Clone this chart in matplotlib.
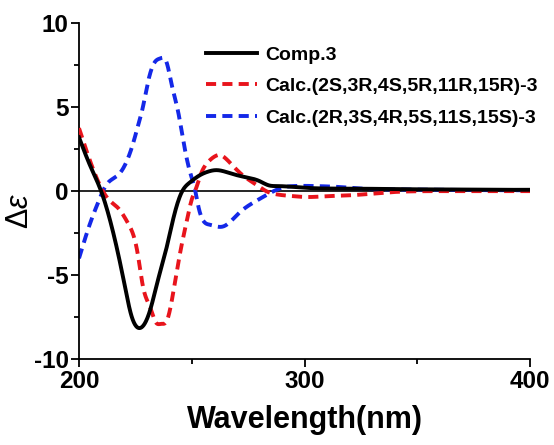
import numpy as np
import matplotlib
matplotlib.use("Agg")
import matplotlib.pyplot as plt
from matplotlib.ticker import MultipleLocator

# Experimental CD (Comp.3)
exp_wl = [200, 205, 209.8, 213.7, 217.3, 220.4, 223, 227, 231.5, 235, 238.6, 241.7, 245.6, 249, 253, 257, 261, 265, 270, 275, 280, 284, 288, 295, 300, 320, 340, 360, 380, 400]
exp_de = [3.2, 1.5, 0.0, -1.7, -3.7, -5.7, -7.3, -8.15, -7.1, -5.3, -3.5, -1.7, -0.05, 0.5, 0.9, 1.15, 1.25, 1.15, 0.95, 0.8, 0.6, 0.35, 0.3, 0.25, 0.2, 0.15, 0.12, 0.1, 0.08, 0.08]

# Calc.(2S,3R,4S,5R,11R,15R)-3
r_wl = [200, 205.3, 210.6, 213.5, 217.3, 221.7, 226, 228.4, 231.5, 234, 236.5, 239, 241.7, 244.8, 247.9, 250, 252, 254, 257, 260, 262.5, 265, 269, 273, 279, 283, 288, 295, 301, 310, 320, 330, 340, 360, 380, 400]
r_de = [3.75, 1.65, 0.0, -0.55, -1.0, -1.9, -3.7, -5.7, -6.9, -7.8, -7.9, -7.7, -6.1, -3.7, -1.7, -0.5, 0.2, 1.0, 1.7, 2.05, 2.15, 1.95, 1.4, 0.9, 0.35, 0.0, -0.2, -0.3, -0.35, -0.3, -0.25, -0.15, -0.05, 0.0, 0.0, 0.0]

# Calc.(2R,3S,4R,5S,11S,15S)-3
b_wl = [200, 205.5, 208.4, 210.6, 212, 217.3, 221.7, 224, 226, 228, 230.6, 233.7, 236, 239, 241, 244, 246, 249, 251.5, 253, 258, 264, 271, 279, 285.6, 290, 295, 305, 315, 325, 340, 360, 380, 400]
b_de = [-4.0, -1.7, -0.7, 0.0, 0.35, 0.95, 1.95, 2.85, 3.8, 4.8, 6.5, 7.7, 7.9, 7.6, 6.4, 4.7, 3.2, 1.25, 0.05, -0.95, -2.0, -2.1, -1.3, -0.55, -0.05, 0.2, 0.3, 0.3, 0.25, 0.15, 0.1, 0.08, 0.06, 0.05]

labels = ["Comp.3", "Calc.(2S,3R,4S,5R,11R,15R)-3", "Calc.(2R,3S,4R,5S,11S,15S)-3"]

plt.rcParams['font.family'] = ['Liberation Sans', 'DejaVu Sans']
plt.rcParams['font.weight'] = 'bold'
plt.rcParams['axes.unicode_minus'] = False
plt.rcParams['mathtext.fontset'] = 'custom'
plt.rcParams['mathtext.rm'] = 'Liberation Sans:weight=normal'
plt.rcParams['mathtext.it'] = 'Liberation Sans:slant=italic:weight=normal'

fig = plt.figure(figsize=(5.54, 4.45), dpi=100)
ax = fig.add_axes([0.1426, 0.193, 0.8141, 0.755])

def smooth(x, y):
    """Natural cubic spline through the read points."""
    x = np.asarray(x, float); y = np.asarray(y, float)
    n = len(x)
    h = np.diff(x)
    A = np.zeros((n, n)); b = np.zeros(n)
    A[0, 0] = 1; A[-1, -1] = 1
    for i in range(1, n - 1):
        A[i, i-1] = h[i-1]; A[i, i] = 2*(h[i-1] + h[i]); A[i, i+1] = h[i]
        b[i] = 6*((y[i+1]-y[i])/h[i] - (y[i]-y[i-1])/h[i-1])
    M = np.linalg.solve(A, b)
    xs = np.linspace(x[0], x[-1], 1200)
    idx = np.clip(np.searchsorted(x, xs) - 1, 0, n - 2)
    hi = h[idx]; a = x[idx+1] - xs; c = xs - x[idx]
    ys = (M[idx]*a**3 + M[idx+1]*c**3)/(6*hi) + (y[idx]/hi - M[idx]*hi/6)*a + (y[idx+1]/hi - M[idx+1]*hi/6)*c
    return xs, ys

ax.axhline(0, color='black', lw=1.2, zorder=1)
x, y = smooth(exp_wl, exp_de)
ax.plot(x, y, color='black', lw=2.8, label=labels[0], zorder=4)
x, y = smooth(r_wl, r_de)
ax.plot(x, y, color='#e8141c', lw=2.8, ls=(0, (2.6, 1.6)), label=labels[1], zorder=3)
x, y = smooth(b_wl, b_de)
ax.plot(x, y, color='#1428e8', lw=2.8, ls=(0, (2.6, 1.6)), label=labels[2], zorder=2)

ax.set_xlim(200, 400)
ax.set_ylim(-10, 10)
ax.xaxis.set_major_locator(MultipleLocator(100))
ax.xaxis.set_minor_locator(MultipleLocator(50))
ax.yaxis.set_major_locator(MultipleLocator(5))
ax.yaxis.set_minor_locator(MultipleLocator(2.5))
ax.spines['top'].set_visible(False)
ax.spines['right'].set_visible(False)
for s in ['left', 'bottom']:
    ax.spines[s].set_linewidth(1.3)
ax.tick_params(which='major', length=6, width=1.3, labelsize=17.5, pad=1.5)
ax.tick_params(which='minor', length=3.5, width=1.3)

ax.set_xlabel("Wavelength(nm)", fontsize=22, fontweight='bold')
ax.xaxis.set_label_coords(0.5, -0.138)
ax.set_ylabel(r"$\Delta\mathit{\varepsilon}$", fontsize=22, fontweight='normal')
ax.yaxis.set_label_coords(-0.097, 0.44)

leg = ax.legend(loc='upper left', bbox_to_anchor=(0.265, 0.955), frameon=False,
                fontsize=14, handlelength=2.6, handletextpad=0.45, labelspacing=0.72,
                borderaxespad=0)

fig.savefig("out.png", dpi=100)
